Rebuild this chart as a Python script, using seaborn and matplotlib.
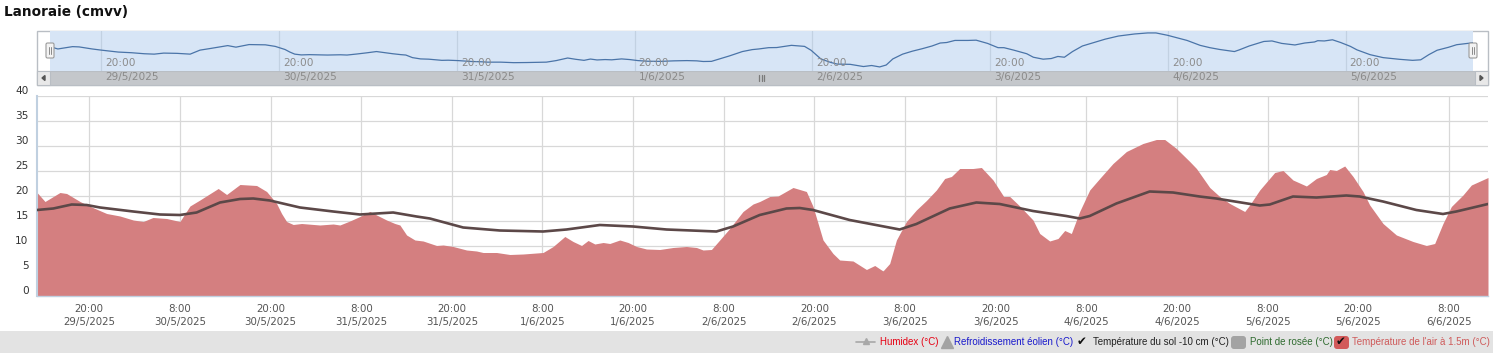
import numpy as np
import pandas as pd
import matplotlib
matplotlib.use("Agg")
import matplotlib.pyplot as plt
import matplotlib.dates as mdates
from matplotlib.patches import Rectangle, FancyBboxPatch, Polygon
from matplotlib.transforms import ScaledTranslation, blended_transform_factory
import seaborn as sns

# ---------------- data ----------------
station = "Lanoraie (cmvv)"
start_day = "2025-05-29"

# hours since 29/5/2025 00:00
air_hours = [13.08, 14.14, 16.12, 17.0, 18.77, 20.0, 22.3, 24.06, 25.82, 27.15, 28.43, 30.24,
             32.0, 33.33, 34.65, 37.07, 38.18, 39.95, 42.15, 43.48, 44.8, 45.46, 46.12, 47.0,
             48.11, 50.53, 52.29, 53.18, 54.5, 55.83, 57.15, 58.04, 59.36, 60.46, 61.12, 62.01,
             63.11, 64.2, 65.98, 66.85, 68.17, 69.95, 71.27, 72.14, 73.92, 75.68, 77.44, 80.08,
             81.41, 82.96, 84.05, 85.17, 86.04, 86.93, 88.03, 88.91, 90.24, 91.34, 92.45, 93.77,
             95.53, 97.29, 99.06, 100.39, 101.26, 102.37, 103.47, 104.79, 106.55, 107.88, 108.76,
             110.09, 111.19, 113.17, 114.06, 114.94, 115.82, 117.14, 118.46, 119.35, 121.11,
             122.89, 123.99, 125.08, 125.97, 126.86, 128.18, 129.5, 130.83, 132.15, 133.25,
             134.14, 135.24, 137.0, 138.11, 139.65, 141.06, 141.86, 143.18, 144.94, 145.83,
             147.15, 148.25, 149.14, 150.02, 151.12, 152.45, 153.77, 155.53, 157.31, 159.5,
             161.28, 162.38, 163.93, 165.69, 166.58, 168.34, 169.66, 170.99, 172.97, 173.63,
             174.96, 176.94, 178.04, 179.36, 181.14, 182.46, 183.78, 184.22, 185.11, 186.21,
             187.31, 188.63, 189.52, 191.28, 193.05, 195.25, 197.02, 198.12, 199.22, 200.33,
             201.87, 202.98, 205.18]
air_temp = [20.7, 18.9, 20.7, 20.5, 18.9, 18.0, 16.5, 16.0, 15.2, 14.9, 15.7, 15.5,
            14.9, 18.0, 19.2, 21.5, 20.3, 22.3, 22.1, 20.9, 18.5, 16.5, 14.9, 14.3,
            14.5, 14.2, 14.4, 14.2, 15.0, 15.9, 16.9, 16.2, 15.2, 14.5, 14.2, 12.2,
            11.2, 11.0, 10.1, 10.2, 9.9, 9.2, 9.0, 8.7, 8.7, 8.3, 8.4, 8.7,
            9.9, 11.9, 10.9, 10.1, 11.1, 10.4, 10.7, 10.5, 11.2, 10.7, 9.9, 9.4,
            9.3, 9.7, 9.9, 9.7, 9.2, 9.3, 11.2, 13.5, 16.9, 18.4, 18.9,
            19.9, 20.0, 21.7, 21.3, 20.9, 17.9, 11.2, 8.5, 7.2, 7.0,
            5.3, 6.1, 5.0, 6.5, 11.2, 14.9, 17.2, 19.1, 21.2, 23.5,
            23.9, 25.5, 25.5, 25.7, 23.2, 19.9, 19.9, 18.0, 15.2, 12.5,
            11.0, 11.5, 13.1, 12.5, 16.9, 21.2, 23.5, 26.5, 28.9, 30.5,
            31.3, 31.3, 29.5, 26.9, 25.5, 21.7, 19.9, 18.5, 16.9, 18.2,
            21.2, 24.7, 25.1, 23.2, 22.0, 23.5, 24.3, 25.3, 25.1, 26.0,
            23.9, 20.9, 18.2, 14.5, 12.2, 10.9, 10.1, 10.5, 14.5, 17.9,
            20.2, 22.2, 23.7]

soil_hours = [13.08, 15.24, 17.67, 19.66, 21.42, 25.82, 29.36, 32.0, 34.21, 37.3, 39.95,
              41.71, 43.92, 47.89, 52.29, 55.83, 58.04, 60.23, 63.33, 65.09, 69.5, 74.36,
              80.08, 83.18, 87.59, 92.0, 96.42, 103.03, 105.23, 108.76, 112.3, 114.06,
              115.82, 120.67, 127.29, 129.5, 133.91, 137.44, 140.53, 144.94, 149.35,
              151.12, 152.45, 155.98, 160.39, 163.48, 167.0, 169.2, 174.96, 176.29,
              179.36, 182.46, 186.43, 188.19, 191.28, 195.69, 199.22, 200.99, 205.18]
soil_temp = [17.2, 17.5, 18.3, 18.2, 17.7, 16.9, 16.3, 16.2, 16.7, 18.7, 19.4,
             19.5, 19.1, 17.7, 16.9, 16.3, 16.5, 16.7, 15.9, 15.5, 13.7, 13.1,
             12.9, 13.3, 14.2, 13.9, 13.3, 12.9, 13.9, 16.2, 17.5, 17.6,
             17.2, 15.2, 13.3, 14.4, 17.5, 18.7, 18.4, 17.0, 16.0,
             15.5, 16.0, 18.5, 20.9, 20.7, 19.9, 19.5, 18.1, 18.3,
             19.9, 19.7, 20.1, 19.9, 18.9, 17.2, 16.4, 16.9, 18.4]

y_ticks = [0, 5, 10, 15, 20, 25, 30, 35, 40]
legend_labels = ["Humidex (°C)", "Refroidissement éolien (°C)",
                 "Température du sol -10 cm (°C)", "Point de rosée (°C)",
                 "Température de l'air à 1.5m (°C)"]

# ---------------- styling ----------------
sns.set_theme(style="white")
plt.rcParams['font.family'] = ['DejaVu Sans']

AIR_COLOR = "#d47f80"
SOIL_COLOR = "#5c4848"
W, H = 1493, 353

fig = plt.figure(figsize=(W / 100, H / 100), dpi=100)
fig.patch.set_facecolor("white")


def fx(px):
    return px / W


def fy(py):
    return 1 - py / H


base = pd.Timestamp(start_day)
air_df = pd.DataFrame({"time": base + pd.to_timedelta(air_hours, unit="h"), "temp": air_temp})
soil_df = pd.DataFrame({"time": base + pd.to_timedelta(soil_hours, unit="h"), "temp": soil_temp})
tmin, tmax = air_df["time"].min(), air_df["time"].max()

# background decoration axes in pixel space
bg = fig.add_axes([0, 0, 1, 1], zorder=-5)
bg.set_xlim(0, W)
bg.set_ylim(H, 0)
bg.set_axis_off()

# legend bar
bg.add_patch(Rectangle((0, 331), W, 22, color="#e3e3e3", lw=0))
# navigator frame / scrollbar
bg.add_patch(Rectangle((37, 31), 1451, 54, facecolor="white", edgecolor="#b9bec4", lw=1))
bg.add_patch(Rectangle((37, 71), 1451, 14, facecolor="#c4c7cb", edgecolor="#b9bec4", lw=0.8))
for bx in (37, 1475):
    bg.add_patch(Rectangle((bx, 71), 13, 14, facecolor="#e8e8e8", edgecolor="#b9bec4", lw=0.8))
bg.add_patch(Polygon([[45, 75.5], [45, 80.5], [42, 78]], color="#555555"))
bg.add_patch(Polygon([[1480, 75.5], [1480, 80.5], [1483, 78]], color="#555555"))
for gx in (759, 761.5, 764):
    bg.plot([gx, gx], [75, 81], color="#7a7a7a", lw=0.9)

# ---------------- main chart ----------------
ax = fig.add_axes([fx(37), fy(296), fx(1451), 200 / H])
ax.fill_between(air_df["time"], air_df["temp"], 0, color=AIR_COLOR, lw=0, zorder=2)
sns.lineplot(data=soil_df, x="time", y="temp", ax=ax, color=SOIL_COLOR, lw=1.9, zorder=3,
             solid_joinstyle="round", solid_capstyle="round")
ax.set_xlim(tmin, tmax)
ax.set_ylim(0, 40)
ax.set_yticks(y_ticks)
xt = pd.date_range(base + pd.Timedelta(hours=20), base + pd.Timedelta(hours=200), freq="12h")
ax.set_xticks(xt)


def fmt(x, pos):
    d = mdates.num2date(x)
    return f"{d.hour}:{d.minute:02d}\n{d.day}/{d.month}/{d.year}"


ax.xaxis.set_major_formatter(plt.FuncFormatter(fmt))
ax.grid(True, color="#d8d8d8", lw=0.9, zorder=0)
ax.set_axisbelow(True)
for s in ("top", "right"):
    ax.spines[s].set_visible(False)
ax.spines["left"].set_color("#c0d0e0")
ax.spines["left"].set_linewidth(1.5)
ax.spines["bottom"].set_color("#c0d0e0")
ax.spines["bottom"].set_linewidth(1.0)
ax.set_xlabel("")
ax.set_ylabel("")
ax.tick_params(axis="x", length=0, pad=6, labelsize=7.4, colors="#555555")
ax.tick_params(axis="y", length=0, pad=6, labelsize=7.6, colors="#333333")
for lab in ax.get_xticklabels():
    lab.set_linespacing(1.3)
for lab in ax.get_yticklabels():
    lab.set_transform(lab.get_transform() + ScaledTranslation(0, 0.06, fig.dpi_scale_trans))

# ---------------- navigator ----------------
nav = fig.add_axes([fx(50), fy(71), fx(1423), 40 / H])
nav.set_facecolor("#d7e5f6")
sns.lineplot(data=air_df, x="time", y="temp", ax=nav, color="#4a74a8", lw=0.9)
nav.set_xlim(tmin, tmax)
nav.set_ylim(1.85, 32.8)
nav.set_xticks([])
nav.set_yticks([])
nav.set_xlabel("")
nav.set_ylabel("")
for s in nav.spines.values():
    s.set_visible(False)
nav_days = pd.date_range(base + pd.Timedelta(hours=20), periods=8, freq="24h")
trans = blended_transform_factory(nav.transData, nav.transAxes)
off = ScaledTranslation(0.04, 0, fig.dpi_scale_trans)
for d in nav_days:
    nav.axvline(d, color="#c2d1e2", lw=0.9, zorder=0)
    nav.text(d, 0.2, "20:00", transform=trans + off, fontsize=7.6, color="#8c8c8c",
             ha="left", va="center")
    nav.text(d, -0.16, f"{d.day}/{d.month}/{d.year}", transform=trans + off, fontsize=7.6,
             color="#8a8a8a", ha="left", va="center", clip_on=False)

# overlay axes for handles and legend
ov = fig.add_axes([0, 0, 1, 1], zorder=10)
ov.set_xlim(0, W)
ov.set_ylim(H, 0)
ov.set_axis_off()
for hx in (46, 1469):
    ov.add_patch(FancyBboxPatch((hx, 43), 8, 15, boxstyle="round,pad=0,rounding_size=1.5",
                                facecolor="#f3f3f3", edgecolor="#9a9a9a", lw=0.8))
    for lx in (hx + 3, hx + 5):
        ov.plot([lx, lx], [47, 54], color="#8a8a8a", lw=0.7)

# ---------------- title ----------------
fig.text(fx(4), fy(12), station, fontsize=9.8, fontweight="bold", color="#111111",
         ha="left", va="center")

# ---------------- legend bar ----------------
ly = 342
lf = dict(fontsize=7.0, va="center", ha="left", family=["Liberation Sans", "DejaVu Sans"])
ov.plot([856, 875], [ly, ly], color="#a8a8a8", lw=1.2)
ov.plot([865.5], [ly - 1], marker="^", color="#a8a8a8", markersize=5)
ov.text(880, ly, legend_labels[0], color="#e60012", **lf)
ov.plot([946.5], [ly], marker="^", color="#a3a3a3", markersize=9)
ov.text(954, ly, legend_labels[1], color="#1a1acc", **lf)
ov.text(1077, ly, "✔", color="#111111", fontsize=8.5, va="center", ha="left",
        family=["DejaVu Sans"])
ov.text(1093, ly, legend_labels[2], color="#222222", **lf)
ov.add_patch(FancyBboxPatch((1231, 336), 15, 13, boxstyle="round,pad=0,rounding_size=3",
                            facecolor="#a3a3a3", edgecolor="none"))
ov.text(1250, ly, legend_labels[3], color="#2f6b2f", **lf)
ov.add_patch(FancyBboxPatch((1334, 336), 15, 13, boxstyle="round,pad=0,rounding_size=3",
                            facecolor="#d25a5a", edgecolor="none"))
ov.text(1336, ly, "✔", color="#111111", fontsize=8.5, va="center", ha="left",
        family=["DejaVu Sans"])
ov.text(1352, ly, legend_labels[4], color="#cf5b5b", **lf)

fig.savefig("out.png", dpi=100)
